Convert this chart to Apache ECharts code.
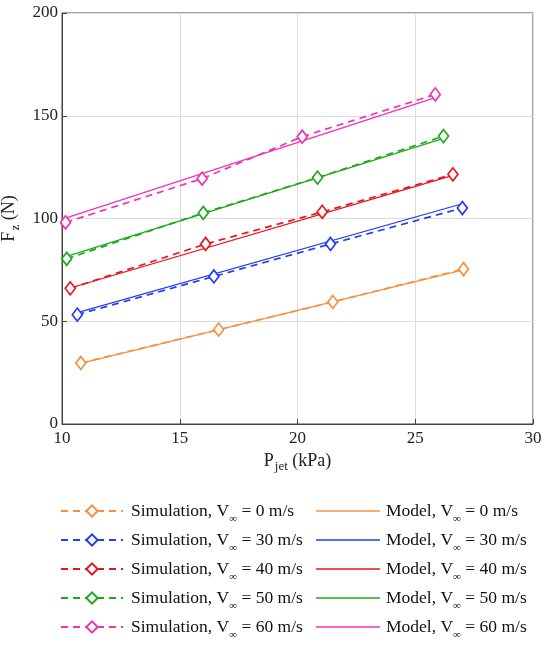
<!DOCTYPE html>
<html>
<head>
<meta charset="utf-8">
<script src="https://cdn.jsdelivr.net/npm/echarts@6/dist/echarts.min.js"></script>
<style>
html,body{margin:0;padding:0;background:#fff;}
#chart{width:550px;height:645px;}
</style>
</head>
<body>
<div id="chart"></div>
<script>
// free stream speeds (m/s)
var speeds = [0, 30, 40, 50, 60];
var colors = ['#f7903c', '#1f3ff0', '#e8141c', '#1caa1c', '#f032b4'];

// simulation points: P_jet (kPa), Fz (N)
var simX = [
	[10.8, 16.65, 21.5, 27.05],
	[10.65, 16.45, 21.4, 27.0],
	[10.35, 16.1, 21.05, 26.6],
	[10.2, 16.0, 20.85, 26.2],
	[10.15, 15.95, 20.2, 25.85]
];
var simY = [
	[29.7, 45.9, 59.4, 75.4],
	[53.2, 71.8, 87.6, 105.1],
	[66.0, 87.6, 103.2, 121.5],
	[80.4, 102.7, 119.9, 140.1],
	[98.1, 119.4, 139.8, 160.4]
];

// model line end points
var modelX = [
	[10.8, 27.05],
	[10.65, 27.0],
	[10.35, 26.6],
	[10.2, 26.2],
	[10.15, 25.85]
];
var modelY = [
	[29.5, 75.0],
	[54.2, 107.2],
	[66.2, 121.0],
	[81.6, 139.0],
	[100.2, 158.8]
];

var xTicks = [10, 15, 20, 25, 30];
var yTicks = [0, 50, 100, 150, 200];

var font = 'Liberation Serif';
var simNames = [], modelNames = [];
var series = [];

function pairs(xs, ys) {
	var out = [];
	for (var j = 0; j < xs.length; j++) out.push([xs[j], ys[j]]);
	return out;
}

for (var i = 0; i < speeds.length; i++) {
	var sn = 'Simulation, V∞ = ' + speeds[i] + ' m/s';
	var mn = 'Model, V∞ = ' + speeds[i] + ' m/s';
	simNames.push(sn);
	modelNames.push(mn);
	series.push({
		name: sn,
		type: 'line',
		data: pairs(simX[i], simY[i]),
		symbol: 'diamond',
		symbolSize: [10, 13],
		showSymbol: true,
		itemStyle: { color: '#fff', borderColor: colors[i], borderWidth: 1.7 },
		lineStyle: { color: colors[i], width: 1.7, type: [7, 5] },
		z: 3
	});
	series.push({
		name: mn,
		type: 'line',
		data: pairs(modelX[i], modelY[i]),
		symbol: 'none',
		lineStyle: { color: colors[i], width: 1.2 },
		itemStyle: { color: colors[i] },
		z: 2
	});
}

function legendFmt(name) {
	var k = name.indexOf('∞');
	return '{g|}{a|' + name.slice(0, k) + '}{s|∞}{a|' + name.slice(k + 1) + '}';
}

function legendText(gap) {
	return {
		fontFamily: font,
		fontSize: 17.5,
		color: '#111',
		rich: {
			g: { width: gap },
			a: { fontFamily: font, fontSize: 17.5, color: '#111' },
			s: { fontFamily: font, fontSize: 11, color: '#111', padding: [17, 0, 0, 0] }
		}
	};
}

var nameRich = {
	a: { fontFamily: font, fontSize: 18, color: '#222' },
	s: { fontFamily: font, fontSize: 13, color: '#222', padding: [12, 0, 0, 1] }
};

var myChart = echarts.init(document.getElementById('chart'));

option = {
	backgroundColor: '#fff',
	animation: false,
	grid: {
		left: 62,
		top: 13,
		right: 17,
		bottom: 221,
		outerBoundsMode: 'none',
		containLabel: false,
		show: true,
		borderColor: '#444',
		borderWidth: 1
	},
	legend: [{
		data: simNames,
		orient: 'vertical',
		left: 60,
		top: 502,
		padding: 0,
		itemWidth: 62,
		itemHeight: 14,
		itemGap: 6,
		textStyle: legendText(3),
		formatter: legendFmt
	}, {
		data: modelNames,
		orient: 'vertical',
		left: 316,
		top: 502,
		padding: 0,
		itemWidth: 64,
		itemHeight: 14,
		itemGap: 6,
		icon: 'path://M0,0 L64,0 L64,1.6 L0,1.6 Z',
		textStyle: legendText(1),
		formatter: legendFmt
	}],
	xAxis: {
		type: 'value',
		min: xTicks[0],
		max: xTicks[xTicks.length - 1],
		interval: 5,
		name: '{a|P}{s|jet}{a| (kPa)}',
		nameLocation: 'middle',
		nameGap: 20,
		nameTextStyle: { rich: nameRich },
		axisLine: { show: true, lineStyle: { color: '#444' } },
		axisTick: { show: true, inside: true, length: 5, lineStyle: { color: '#444' } },
		axisLabel: { fontFamily: font, fontSize: 17, color: '#222', margin: 6 },
		splitLine: { show: true, lineStyle: { color: '#dcdcdc' } }
	},
	yAxis: {
		type: 'value',
		min: yTicks[0],
		max: yTicks[yTicks.length - 1],
		interval: 50,
		name: '{a|F}{s|z}{a| (N)}',
		nameLocation: 'middle',
		nameGap: 31,
		nameTextStyle: { rich: nameRich },
		axisLine: { show: true, lineStyle: { color: '#444' } },
		axisTick: { show: true, inside: true, length: 5, lineStyle: { color: '#444' } },
		axisLabel: { fontFamily: font, fontSize: 17, color: '#222', margin: 4 },
		splitLine: { show: true, lineStyle: { color: '#dcdcdc' } }
	},
	series: series
};

myChart.setOption(option);
</script>
</body>
</html>
